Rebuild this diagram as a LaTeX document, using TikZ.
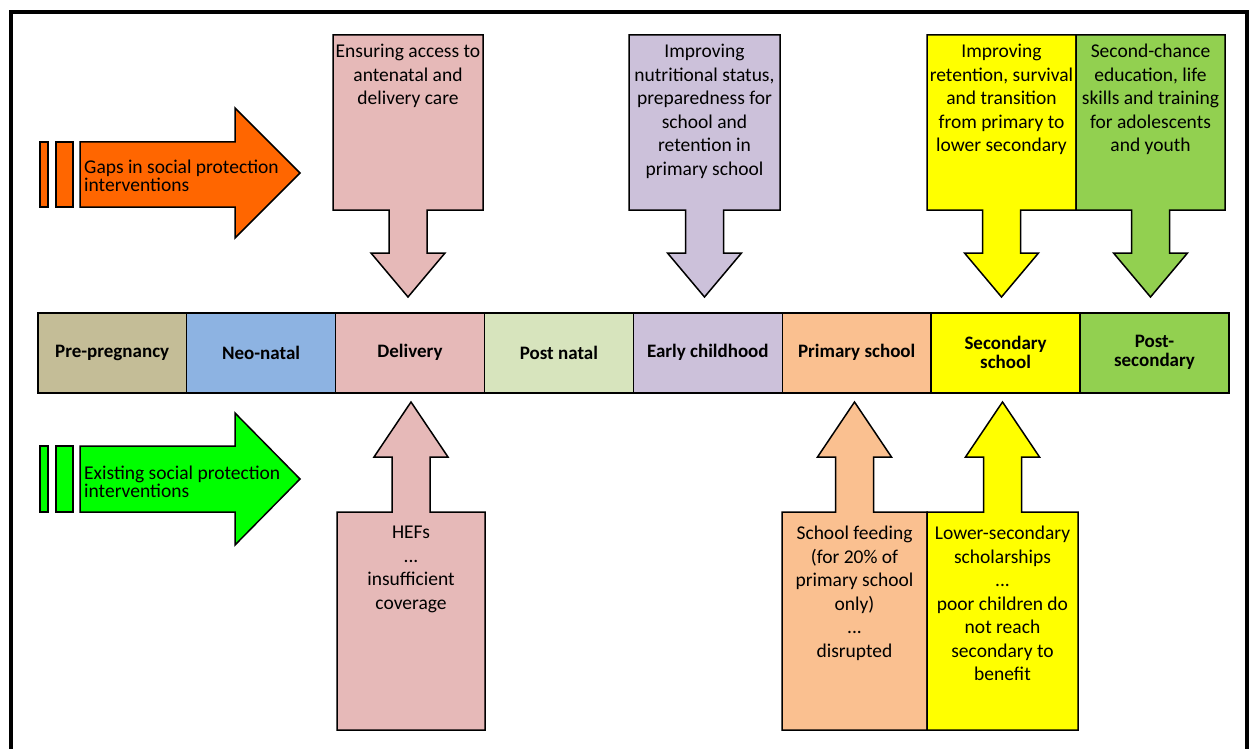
\documentclass[tikz,border=0pt]{standalone}
\usepackage{fontspec}
\setmainfont{Carlito}
\usetikzlibrary{calc}
\definecolor{cPre}{HTML}{C4BD97}
\definecolor{cNeo}{HTML}{8DB3E2}
\definecolor{cDel}{HTML}{E6B9B8}
\definecolor{cPost}{HTML}{D7E4BD}
\definecolor{cEarly}{HTML}{CCC1DA}
\definecolor{cPrim}{HTML}{FAC090}
\definecolor{cSec}{HTML}{FFFF00}
\definecolor{cPS}{HTML}{92D050}
\definecolor{cGap}{HTML}{FF6600}
\definecolor{cExist}{HTML}{00FF00}
\tikzset{
  cell/.style={draw=black, line width=1.5pt, minimum width=148.9pt, minimum height=80pt,
    anchor=north west, inner sep=0pt, align=center,
    font=\fontsize{19}{19}\selectfont\bfseries},
  calltext/.style={anchor=north, inner sep=0pt, align=center,
    font=\fontsize{19.5}{23.5}\selectfont},
  callshape/.style={draw=black, line width=1.5pt, line join=miter},
  legtext/.style={anchor=west, inner sep=0pt, align=left,
    font=\fontsize{19.5}{15.5}\selectfont},
  frameline/.style={draw=black, line width=4pt}
}
\newcommand\dcallout[3]{%
  \filldraw[callshape, fill=#3] (#1,35) -- (#2,35) -- (#2,210)
    -- ({(#1+#2)/2+19},210) -- ({(#1+#2)/2+19},253) -- ({(#1+#2)/2+37},253)
    -- ({(#1+#2)/2},297) -- ({(#1+#2)/2-37},253) -- ({(#1+#2)/2-19},253)
    -- ({(#1+#2)/2-19},210) -- (#1,210) -- cycle;}
\newcommand\ucallout[3]{%
  \filldraw[callshape, fill=#3] (#1,730) -- (#1,512)
    -- ({(#1+#2)/2-19},512) -- ({(#1+#2)/2-19},457) -- ({(#1+#2)/2-37},457)
    -- ({(#1+#2)/2},402) -- ({(#1+#2)/2+37},457) -- ({(#1+#2)/2+19},457)
    -- ({(#1+#2)/2+19},512) -- (#2,512) -- (#2,730) -- cycle;}
\begin{document}
\begin{tikzpicture}[x=1pt,y=-1pt]
\useasboundingbox (0,0) rectangle (1250,749);
\clip (0,0) rectangle (1250,749);
\fill[white] (0,0) rectangle (1250,749);
% frame
\draw[frameline] (10.5,760) -- (10.5,12) -- (1246.5,12) -- (1246.5,760);

% legend arrows
\filldraw[callshape, fill=cGap] (40,142) rectangle (48,207);
\filldraw[callshape, fill=cGap] (56,142) rectangle (73,207);
\filldraw[callshape, fill=cGap] (80,142) -- (235,142) -- (235,108) -- (300,173)
  -- (235,238) -- (235,207) -- (80,207) -- cycle;
\node[legtext] (legGap) at (84,176) {Gaps in social protection\\interventions};

\filldraw[callshape, fill=cExist] (40,446) rectangle (48,512);
\filldraw[callshape, fill=cExist] (56,446) rectangle (73,512);
\filldraw[callshape, fill=cExist] (80,446) -- (235,446) -- (235,413) -- (300,479)
  -- (235,545) -- (235,512) -- (80,512) -- cycle;
\node[legtext] (legExist) at (84,482) {Existing social protection\\interventions};

% top callouts
\dcallout{333}{483}{cDel}
\node[calltext] (tDel) at (408,44) {Ensuring access to\\antenatal and\\delivery care};
\dcallout{629}{780}{cEarly}
\node[calltext] (tEarly) at (704.5,44) {Improving\\nutritional status,\\preparedness for\\school and\\retention in\\primary school};
\dcallout{927}{1076}{cSec}
\node[calltext] (tSec) at (1001.5,44) {Improving\\retention, survival\\and transition\\from primary to\\lower secondary};
\dcallout{1076}{1225}{cPS}
\node[calltext] (tPS) at (1150.5,44) {Second-chance\\education, life\\skills and training\\for adolescents\\and youth};

% bottom callouts
\ucallout{337}{485}{cDel}
\node[calltext] (bDel) at (411,526) {HEFs\\...\\insufficient\\coverage};
\ucallout{782}{927}{cPrim}
\node[calltext] (bPrim) at (854.5,526) {School feeding\\(for 20\% of\\primary school\\only)\\...\\disrupted};
\ucallout{927}{1078}{cSec}
\node[calltext] (bSec) at (1002.5,526) {Lower-secondary\\scholarships\\...\\poor children do\\not reach\\secondary to\\benefit};

% life-cycle row
\node[cell, fill=cPre]   (pre)   at (37,312) {Pre-pregnancy};
\node[cell, fill=cNeo]   (neo)   at (185.9,312) {Neo-natal};
\node[cell, fill=cDel]   (del)   at (334.8,312) {Delivery};
\node[cell, fill=cPost]  (post)  at (483.7,312) {Post natal};
\node[cell, fill=cEarly] (early) at (632.6,312) {Early childhood};
\node[cell, fill=cPrim]  (prim)  at (781.5,312) {Primary school};
\node[cell, fill=cSec]   (sec)   at (930.4,312) {Secondary\\school};
\node[cell, fill=cPS]    (ps)    at (1079.3,312) {Post-\\secondary};
\end{tikzpicture}
\end{document}
